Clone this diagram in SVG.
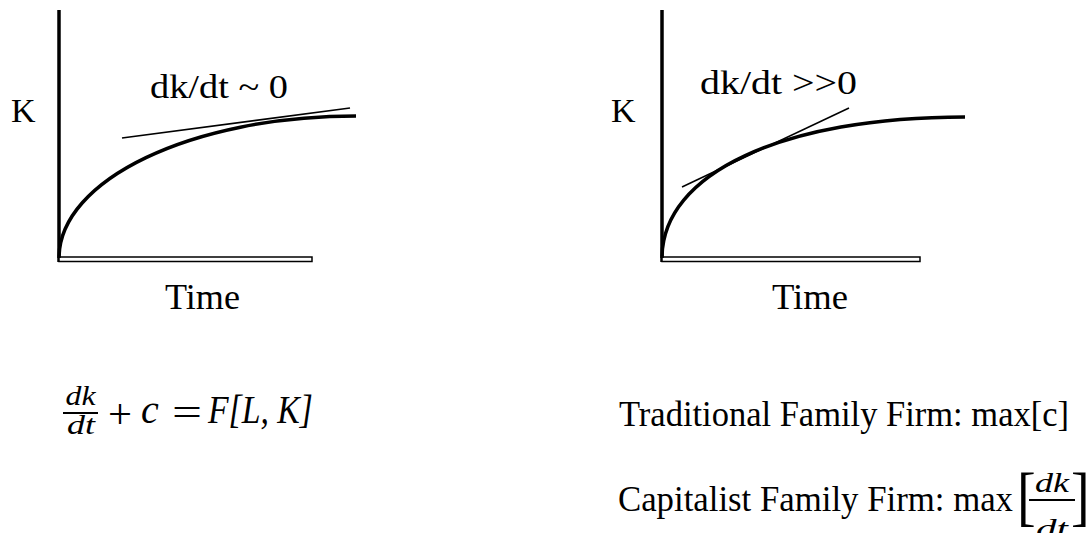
<svg xmlns="http://www.w3.org/2000/svg" width="1088" height="533" viewBox="0 0 1088 533">
<style>
.t{font-family:"Liberation Serif","Times New Roman",serif;fill:#000}
.m{font-family:"Liberation Serif","Times New Roman",serif;font-style:italic;fill:#000}
.ax{stroke:#000;stroke-width:3.5;fill:none}
.hx{stroke:#000;stroke-width:1.5;fill:#fff}
.cv{stroke:#000;stroke-width:3.5;fill:none}
.tg{stroke:#000;stroke-width:1.6;fill:none}
</style>
<rect width="1088" height="533" fill="#fff"/>
<g id="graph-left">
<line class="ax" x1="59" y1="10" x2="59" y2="262"/>
<rect class="hx" x="59" y="257" width="253" height="4.5"/>
<path class="cv" d="M59,258 C59,179.6 192,116 356,116"/>
<line class="tg" x1="122" y1="138" x2="350" y2="108"/>
<text class="t" x="11" y="122" font-size="34">K</text>
<text class="t" x="150" y="98" font-size="33" textLength="138" lengthAdjust="spacingAndGlyphs">dk/dt ~ 0</text>
<text class="t" x="165" y="309" font-size="36" textLength="75" lengthAdjust="spacingAndGlyphs">Time</text>
</g>
<g id="graph-right">
<line class="ax" x1="662" y1="10" x2="662" y2="262"/>
<rect class="hx" x="662" y="257" width="258" height="4.5"/>
<path class="cv" d="M662,258 C662,173 783,117 965,117"/>
<line class="tg" x1="682" y1="187" x2="849" y2="108"/>
<text class="t" x="611" y="122" font-size="34">K</text>
<text class="t" x="700" y="94" font-size="33" textLength="157" lengthAdjust="spacingAndGlyphs">dk/dt &gt;&gt;0</text>
<text class="t" x="772" y="309" font-size="36" textLength="76" lengthAdjust="spacingAndGlyphs">Time</text>
</g>
<g id="equation-left">
<text class="m" x="80.5" y="405" font-size="28" text-anchor="middle" textLength="30" lengthAdjust="spacingAndGlyphs">dk</text>
<line x1="63" y1="413" x2="98" y2="413" stroke="#000" stroke-width="1.8"/>
<text class="m" x="81" y="434" font-size="28" text-anchor="middle" textLength="28" lengthAdjust="spacingAndGlyphs">dt</text>
<text class="t" x="108" y="428" font-size="42" textLength="24" lengthAdjust="spacingAndGlyphs">+</text>
<text class="m" x="141" y="423" font-size="40">c</text>
<text class="t" x="172" y="426" font-size="40" textLength="30" lengthAdjust="spacingAndGlyphs">=</text>
<text class="m" x="208" y="423" font-size="39" textLength="105" lengthAdjust="spacingAndGlyphs">F[L, K]</text>
</g>
<g id="rule-traditional">
<text class="t" x="619" y="426" font-size="35" textLength="450" lengthAdjust="spacingAndGlyphs">Traditional Family Firm: max[c]</text>
</g>
<g id="rule-capitalist">
<text class="t" x="618" y="511" font-size="35" textLength="395" lengthAdjust="spacingAndGlyphs">Capitalist Family Firm: max</text>
<text class="t" x="1017" y="518" font-size="66" transform="translate(1017,518) scale(0.85,1) translate(-1017,-518)">[</text>
<text class="m" x="1052" y="492" font-size="27" text-anchor="middle" textLength="34" lengthAdjust="spacingAndGlyphs">dk</text>
<line x1="1029" y1="500" x2="1075" y2="500" stroke="#000" stroke-width="1.8"/>
<text class="m" x="1052" y="538" font-size="27" text-anchor="middle" textLength="32" lengthAdjust="spacingAndGlyphs">dt</text>
<text class="t" x="1071" y="518" font-size="66" transform="translate(1071,518) scale(0.85,1) translate(-1071,-518)">]</text>
</g>
</svg>
